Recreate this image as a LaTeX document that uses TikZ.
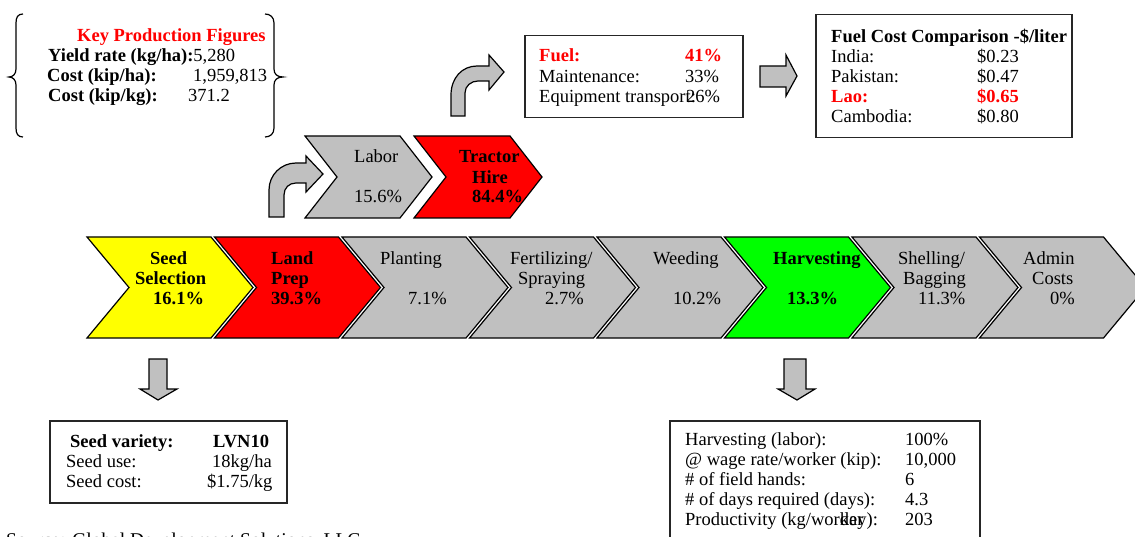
\documentclass[tikz,border=0pt]{standalone}
\usepackage{fontspec}
\setmainfont{Liberation Serif}
\newcommand{\fs}{\fontsize{18.5}{20}\selectfont}
\definecolor{silverfill}{RGB}{192,192,192}
\definecolor{limefill}{RGB}{0,255,0}
\definecolor{hotred}{RGB}{255,0,0}
\definecolor{lemon}{RGB}{255,255,0}

\tikzset{
  txt/.style={anchor=base west, inner sep=0pt, font=\fs},
  btxt/.style={txt, font=\fs\bfseries},
  rtxt/.style={btxt, text=hotred},
  shapeline/.style={draw=black, line width=1.2pt, line join=miter},
  braceline/.style={draw=black, line width=1.2pt},
  infobox/.style={draw=black!85, line width=1.5pt, inner sep=0pt, anchor=north west},
  blockarrow/.style={shapeline, fill=silverfill},
}

% chevron: left x, top y, bottom y, point depth, total width, fill
\newcommand{\chevshape}[6]{%
  \draw[shapeline, fill=#6] (#1,#2) -- ({#1+#5-#4},#2) -- ({#1+#5},{(#2+#3)/2})
    -- ({#1+#5-#4},#3) -- (#1,#3) -- ({#1+#4},{(#2+#3)/2}) -- cycle;}

\begin{document}
\begin{tikzpicture}[x=1pt,y=-1pt]
\useasboundingbox (0,0) rectangle (1135,537);
\clip (0,0) rectangle (1135,537);

% ---- key production figures, between braces
\draw[braceline] (23,14) .. controls (18,14) and (16,17) .. (16,23) -- (16,69)
  .. controls (16,74) and (13,77) .. (9,77) .. controls (13,77) and (16,80) .. (16,85)
  -- (16,128) .. controls (16,134) and (18,137) .. (23,137);
\draw[braceline] (265,14) .. controls (270,14) and (274,17) .. (274,23) -- (274,69)
  .. controls (274,74) and (277,77) .. (283,77) .. controls (277,77) and (274,80) .. (274,85)
  -- (274,128) .. controls (274,134) and (270,137) .. (265,137);
\node[rtxt] (keyhead) at (77,42) {Key Production Figures};
\node[txt] (yield) at (48,62) {\textbf{Yield rate (kg/ha):}5,280};
\node[btxt] (costha) at (47,82) {Cost (kip/ha):};
\node[txt] (costhav) at (193,82) {1,959,813};
\node[btxt] (costkg) at (48,102) {Cost (kip/kg):};
\node[txt] (costkgv) at (188,102) {371.2};

% ---- main value chain
\foreach \i/\c in {0/lemon,1/hotred,2/silverfill,3/silverfill,4/silverfill,5/limefill,6/silverfill,7/silverfill}{
  \pgfmathsetmacro\xl{87+127.5*\i}
  \chevshape{\xl}{237}{338}{42}{166}{\c}
}
\node[btxt] (seedA) at (150,265) {Seed};
\node[btxt] (seedB) at (135,285) {Selection};
\node[btxt] (seedC) at (153,305) {16.1\%};
\node[btxt] (landA) at (271,265) {Land};
\node[btxt] (landB) at (271,285) {Prep};
\node[btxt] (landC) at (271,305) {39.3\%};
\node[txt] (plantA) at (380,265) {Planting};
\node[txt] (plantC) at (408,305) {7.1\%};
\node[txt] (fertA) at (510,265) {Fertilizing/};
\node[txt] (fertB) at (518,285) {Spraying};
\node[txt] (fertC) at (545,305) {2.7\%};
\node[txt] (weedA) at (653,265) {Weeding};
\node[txt] (weedC) at (673,305) {10.2\%};
\node[btxt] (harvA) at (773,265) {Harvesting};
\node[btxt] (harvC) at (787,305) {13.3\%};
\node[txt] (shellA) at (898,265) {Shelling/};
\node[txt] (shellB) at (903,285) {Bagging};
\node[txt] (shellC) at (918,305) {11.3\%};
\node[txt] (adminA) at (1023,265) {Admin};
\node[txt] (adminB) at (1032,285) {Costs};
\node[txt] (adminC) at (1050,305) {0\%};

% ---- land preparation breakdown
\draw[blockarrow] (269,217) -- (269,190) .. controls (269,175) and (281,163) .. (296,163)
  -- (306,163) -- (306,156) -- (323,174) -- (306,192) -- (306,183) -- (296,183)
  .. controls (289,183) and (284,188) .. (284,195) -- (284,217) -- cycle;
\chevshape{305}{136}{218}{32}{127}{silverfill}
\chevshape{414}{136}{218}{32}{128}{hotred}
\node[txt] (laborA) at (354,163) {Labor};
\node[txt] (laborC) at (354,203) {15.6\%};
\node[btxt] (tractA) at (459,163) {Tractor};
\node[btxt] (tractB) at (472,184) {Hire};
\node[btxt] (tractC) at (472,203) {84.4\%};

% ---- tractor hire breakdown
\draw[blockarrow] (451,116) -- (451,95) .. controls (451,78) and (462,66) .. (477,66)
  -- (489,66) -- (489,55) -- (504,72) -- (489,90) -- (489,81) -- (478,81)
  .. controls (471,81) and (465,86) .. (465,93) -- (465,116) -- cycle;
\node[infobox, minimum width=218pt, minimum height=82pt] (fuelbox) at (524,35) {};
\node[rtxt] (fuelA) at (539,62) {Fuel:};
\node[rtxt] (fuelAv) at (685,62) {41\%};
\node[txt] (fuelB) at (539,83) {Maintenance:};
\node[txt] (fuelBv) at (685,83) {33\%};
\node[txt] (fuelC) at (539,103) {Equipment transport:};
\node[txt] (fuelCv) at (686,103) {26\%};

% ---- fuel price comparison
\draw[blockarrow] (760,66) -- (786,66) -- (786,55) -- (797,76) -- (786,96) -- (786,87) -- (760,87) -- cycle;
\node[infobox, minimum width=256pt, minimum height=123pt] (pricebox) at (815,14) {};
\node[btxt] (priceHead) at (831,43) {Fuel Cost Comparison -\$/liter};
\node[txt] (indA) at (831,63) {India:};
\node[txt] (indB) at (977,63) {\$0.23};
\node[txt] (pakA) at (831,83) {Pakistan:};
\node[txt] (pakB) at (977,83) {\$0.47};
\node[rtxt] (laoA) at (831,103) {Lao:};
\node[rtxt] (laoB) at (977,103) {\$0.65};
\node[txt] (camA) at (831,123) {Cambodia:};
\node[txt] (camB) at (977,123) {\$0.80};

% ---- seed details
\draw[blockarrow] (149,359) -- (167,359) -- (167,389) -- (177,389) -- (158,400) -- (140,389) -- (149,389) -- cycle;
\node[infobox, minimum width=237pt, minimum height=82pt] (seedbox) at (49,420) {};
\node[btxt] (varA) at (70,447) {Seed variety:};
\node[btxt] (varB) at (213,447) {LVN10};
\node[txt] (useA) at (66,467) {Seed use:};
\node[txt] (useB) at (212,467) {18kg/ha};
\node[txt] (scostA) at (66,487) {Seed cost:};
\node[txt] (scostB) at (207,487) {\$1.75/kg};

% ---- harvesting details
\draw[blockarrow] (784,359) -- (806,359) -- (806,389) -- (815,389) -- (797,400) -- (778,389) -- (784,389) -- cycle;
\node[infobox, minimum width=310pt, minimum height=140pt] (harvbox) at (669,420) {};
\node[txt] (hlA) at (685,445) {Harvesting (labor):};
\node[txt] (hlB) at (905,445) {100\%};
\node[txt] (wageA) at (685,465) {@ wage rate/worker (kip):};
\node[txt] (wageB) at (905,465) {10,000};
\node[txt] (handA) at (685,485) {\# of field hands:};
\node[txt] (handB) at (905,485) {6};
\node[txt] (daysA) at (685,505) {\# of days required (days):};
\node[txt] (daysB) at (905,505) {4.3};
\node[txt] (prodA) at (685,525) {Productivity (kg/wor\rlap{ker}day):};
\node[txt] (prodB) at (905,525) {203};

% ---- source line at the foot of the page
\node[txt, font=\fontsize{19.5}{21}\selectfont] (source) at (6,546) {Source: Global Development Solutions, LLC};
\end{tikzpicture}
\end{document}
